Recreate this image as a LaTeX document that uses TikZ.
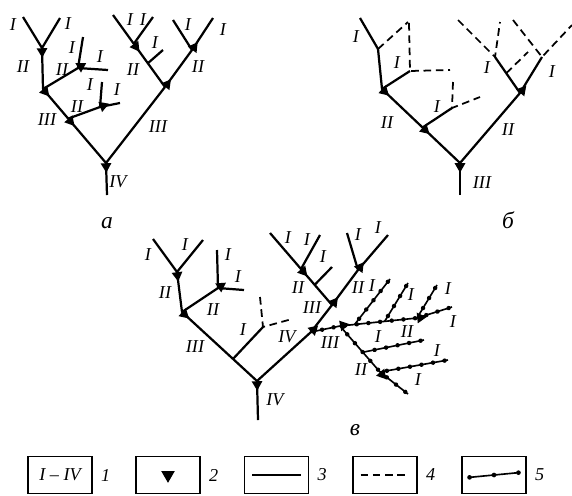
\documentclass[tikz,border=0pt]{standalone}
\usepackage{fontspec}
\setmainfont{Liberation Serif}
\usetikzlibrary{calc,shapes.geometric,decorations.markings}

% junction mark: triangle at #1, pointing downstream to #2
\newcommand\jtri[2]{\path (#1) -- (#2) node[tri, pos=0, sloped] (t#1) {};}

\begin{document}
\begin{tikzpicture}[
    x=0.03cm, y=-0.03cm,
    font=\fontsize{15.5}{15.5}\selectfont\itshape,
    riv/.style={line width=1.9pt, line join=round},
    dry/.style={line width=1.5pt, dash pattern=on 6.5pt off 4pt},
    bead/.style={line width=1.4pt, postaction={decorate},
      decoration={markings,
        mark=between positions 3pt and -1pt step 10pt with {\fill (0,0) circle (1.9pt);}}},
    tri/.style={isosceles triangle, isosceles triangle apex angle=60, fill,
      inner sep=0pt, minimum width=7pt, minimum height=8pt, anchor=west},
    lbl/.style={inner sep=0pt},
    tag/.style={inner sep=0pt, font=\fontsize{20}{20}\selectfont\itshape},
    key/.style={draw, line width=1.1pt, minimum width=1.92cm, minimum height=1.11cm},
  ]
  \useasboundingbox (0,0) rectangle (572,495);

  % tree a
  \coordinate (a0) at (107,195);
  \coordinate (a1) at (106,163);
  \coordinate (a2) at (43,89);
  \coordinate (a3) at ($(a2)!0.4!(a1)$);
  \coordinate (a4) at (165,87);
  \coordinate (a5) at (42,48);
  \coordinate (a5l) at (23,17);
  \coordinate (a5r) at (60,18);
  \coordinate (a6) at (78,68);
  \coordinate (a6u) at (83,37);
  \coordinate (a6r) at (108,70);
  \coordinate (a7) at (100,107);
  \coordinate (a7u) at (102,82);
  \coordinate (a7r) at (120,103);
  \coordinate (a8e) at (113,15);
  \coordinate (a8) at ($(a8e)!0.4!(a4)$);
  \coordinate (a8r) at (153,17);
  \coordinate (a8s) at ($(a8e)!0.67!(a4)$);
  \coordinate (a8t) at (163,50);
  \coordinate (a9) at (192,50);
  \coordinate (a9l) at (173,20);
  \coordinate (a9r) at (213,18);

  \draw[riv] (a0) -- (a1);
  \draw[riv] (a2) -- (a1) -- (a4);
  \draw[riv] (a5l) -- (a5) -- (a5r);
  \draw[riv] (a5) -- (a2) -- (a6);
  \draw[riv] (a6u) -- (a6) -- (a6r);
  \draw[riv] (a3) -- (a7);
  \draw[riv] (a7u) -- (a7) -- (a7r);
  \draw[riv] (a8e) -- (a4);
  \draw[riv] (a8) -- (a8r);
  \draw[riv] (a8s) -- (a8t);
  \draw[riv] (a4) -- (a9);
  \draw[riv] (a9l) -- (a9) -- (a9r);

  \jtri{a1}{a0} \jtri{a2}{a1} \jtri{a3}{a1} \jtri{a4}{a1}
  \jtri{a5}{a2} \jtri{a6}{a2} \jtri{a7}{a3} \jtri{a8}{a4} \jtri{a9}{a4}

  \node[lbl] (la1) at (13,25) {I};
  \node[lbl] (la2) at (68,24) {I};
  \node[lbl] (la3) at (23,67) {II};
  \node[lbl] (la4) at (62,70) {II};
  \node[lbl] (la5) at (72,48) {I};
  \node[lbl] (la6) at (100,57) {I};
  \node[lbl] (la7) at (47,120) {III};
  \node[lbl] (la8) at (77,107) {II};
  \node[lbl] (la9) at (90,85) {I};
  \node[lbl] (la10) at (117,90) {I};
  \node[lbl] (la11) at (130,20) {I};
  \node[lbl] (la12) at (143,20) {I};
  \node[lbl] (la13) at (155,43) {I};
  \node[lbl] (la14) at (133,70) {II};
  \node[lbl] (la15) at (188,25) {I};
  \node[lbl] (la16) at (223,30) {I};
  \node[lbl] (la17) at (198,67) {II};
  \node[lbl] (la18) at (158,127) {III};
  \node[lbl] (la19) at (118,182) {IV};
  \node[tag] (na) at (107,223) {а};

  % tree b
  \coordinate (b0) at (460,195);
  \coordinate (b1) at (460,163);
  \coordinate (b2) at (382,89);
  \coordinate (b3) at ($(b2)!0.52!(b1)$);
  \coordinate (b4) at (520,93);
  \coordinate (b5) at (378,49);
  \coordinate (b5e) at (360,18);
  \coordinate (b5d) at (408,22);
  \coordinate (b6) at (410,71);
  \coordinate (b6u) at (409,23);
  \coordinate (b6r) at (450,70);
  \coordinate (b7) at (452,108);
  \coordinate (b7u) at (453,82);
  \coordinate (b7r) at (480,97);
  \coordinate (b8) at (495,57);
  \coordinate (b8l) at (458,20);
  \coordinate (b8u) at (500,22);
  \coordinate (b8m) at ($(b8)!0.45!(b4)$);
  \coordinate (b8n) at (528,52);
  \coordinate (b9) at (542,57);
  \coordinate (b9l) at (513,20);
  \coordinate (b9r) at (572,25);

  \draw[riv] (b0) -- (b1);
  \draw[riv] (b2) -- (b1) -- (b4);
  \draw[riv] (b5e) -- (b5) -- (b2) -- (b6);
  \draw[riv] (b3) -- (b7);
  \draw[riv] (b8) -- (b4) -- (b9);
  \draw[dry] (b5) -- (b5d);
  \draw[dry] (b6u) -- (b6) -- (b6r);
  \draw[dry] (b7u) -- (b7) -- (b7r);
  \draw[dry] (b8l) -- (b8) -- (b8u);
  \draw[dry] (b8m) -- (b8n);
  \draw[dry] (b9l) -- (b9) -- (b9r);

  \jtri{b1}{b0} \jtri{b2}{b1} \jtri{b3}{b1} \jtri{b4}{b1}

  \node[lbl] (lb1) at (356,37) {I};
  \node[lbl] (lb2) at (397,63) {I};
  \node[lbl] (lb3) at (437,107) {I};
  \node[lbl] (lb4) at (387,123) {II};
  \node[lbl] (lb5) at (487,68) {I};
  \node[lbl] (lb6) at (552,72) {I};
  \node[lbl] (lb7) at (508,130) {II};
  \node[lbl] (lb8) at (482,183) {III};
  \node[tag] (nb) at (508,220) {б};

  % tree c
  \coordinate (c0) at (258,420);
  \coordinate (c1) at (257,381);
  \coordinate (c2) at (182,312);
  \coordinate (c3) at ($(c2)!0.68!(c1)$);
  \coordinate (c3e) at (263,327);
  \coordinate (c3u) at (260,297);
  \coordinate (c3r) at (292,319);
  \coordinate (c4) at (311,332);
  \coordinate (c5) at (177,272);
  \coordinate (c5l) at (153,239);
  \coordinate (c5r) at (203,240);
  \coordinate (c6) at (218,288);
  \coordinate (c6u) at (217,250);
  \coordinate (c6r) at (244,290);
  \coordinate (c7) at (332,305);
  \coordinate (c8e) at (270,233);
  \coordinate (c8) at ($(c8e)!0.5!(c7)$);
  \coordinate (c8r) at (320,235);
  \coordinate (c8s) at ($(c8e)!0.72!(c7)$);
  \coordinate (c8t) at (332,267);
  \coordinate (c9) at (358,270);
  \coordinate (c9l) at (347,233);
  \coordinate (c9r) at (388,235);
  \coordinate (c10) at (340,326);
  \coordinate (c11) at (417,318);
  \coordinate (c11e) at (452,307);
  \coordinate (c11u) at (437,285);
  \coordinate (c13) at ($(c10)!0.19!(c11)$);
  \coordinate (c13e) at (390,279);
  \coordinate (c14) at ($(c10)!0.58!(c11)$);
  \coordinate (c14e) at (408,283);
  \coordinate (c12) at (380,372);
  \coordinate (c12e) at (408,394);
  \coordinate (c12r) at (448,360);
  \coordinate (c15) at ($(c10)!0.57!(c12)$);
  \coordinate (c15e) at (424,340);

  \draw[riv] (c0) -- (c1);
  \draw[riv] (c2) -- (c1) -- (c4) -- (c7);
  \draw[riv] (c5l) -- (c5) -- (c5r);
  \draw[riv] (c5) -- (c2) -- (c6);
  \draw[riv] (c6u) -- (c6) -- (c6r);
  \draw[riv] (c3) -- (c3e);
  \draw[dry] (c3u) -- (c3e) -- (c3r);
  \draw[riv] (c8e) -- (c7) -- (c9);
  \draw[riv] (c8) -- (c8r);
  \draw[riv] (c8s) -- (c8t);
  \draw[riv] (c9l) -- (c9) -- (c9r);
  \draw[bead] (c11e) -- (c11) -- (c10) -- (c4);
  \draw[bead] (c13e) -- (c13);
  \draw[bead] (c14e) -- (c14);
  \draw[bead] (c11u) -- (c11);
  \draw[bead] (c12e) -- (c12) -- (c10);
  \draw[bead] (c12r) -- (c12);
  \draw[bead] (c15e) -- (c15);

  \jtri{c1}{c0} \jtri{c2}{c1} \jtri{c4}{c1} \jtri{c5}{c2} \jtri{c6}{c2}
  \jtri{c7}{c4} \jtri{c8}{c7} \jtri{c9}{c7} \jtri{c10}{c4}
  \jtri{c11}{c10} \jtri{c12}{c10}

  \node[lbl] (lc1) at (148,255) {I};
  \node[lbl] (lc2) at (185,245) {I};
  \node[lbl] (lc3) at (165,293) {II};
  \node[lbl] (lc4) at (228,255) {I};
  \node[lbl] (lc5) at (238,277) {I};
  \node[lbl] (lc6) at (213,310) {II};
  \node[lbl] (lc7) at (195,347) {III};
  \node[lbl] (lc8) at (243,330) {I};
  \node[lbl] (lc9) at (287,337) {IV};
  \node[lbl] (lc10) at (275,400) {IV};
  \node[lbl] (lc11) at (288,238) {I};
  \node[lbl] (lc12) at (307,240) {I};
  \node[lbl] (lc13) at (323,257) {I};
  \node[lbl] (lc14) at (298,288) {II};
  \node[lbl] (lc15) at (358,235) {I};
  \node[lbl] (lc16) at (378,228) {I};
  \node[lbl] (lc17) at (358,288) {II};
  \node[lbl] (lc18) at (312,308) {III};
  \node[lbl] (lc19) at (330,343) {III};
  \node[lbl] (lc20) at (372,286) {I};
  \node[lbl] (lc21) at (411,295) {I};
  \node[lbl] (lc22) at (448,289) {I};
  \node[lbl] (lc23) at (453,322) {I};
  \node[lbl] (lc24) at (407,332) {II};
  \node[lbl] (lc25) at (378,337) {I};
  \node[lbl] (lc26) at (437,351) {I};
  \node[lbl] (lc27) at (361,370) {II};
  \node[lbl] (lc28) at (418,380) {I};
  \node[tag] (nc) at (355,430) {в};

  % legend
  \node[key] (k1) at (60,475) {I -- IV};
  \node[key] (k2) at (168,475) {};
  \node[key] (k3) at (276.5,475) {};
  \node[key] (k4) at (385,475) {};
  \node[key] (k5) at (494,475) {};
  \node[lbl, anchor=west] (n1) at ([xshift=7pt]k1.east) {1};
  \node[lbl, anchor=west] (n2) at ([xshift=7pt]k2.east) {2};
  \node[lbl, anchor=west] (n3) at ([xshift=7pt]k3.east) {3};
  \node[lbl, anchor=west] (n4) at ([xshift=7pt]k4.east) {4};
  \node[lbl, anchor=west] (n5) at ([xshift=7pt]k5.east) {5};

  \node[tri, anchor=center, shape border rotate=270,
    minimum width=9pt, minimum height=10pt] (t2) at (k2) {};
  \coordinate (k3a) at ([xshift=7pt]k3.west);
  \coordinate (k3b) at ([xshift=-7pt]k3.east);
  \draw[line width=1.6pt] (k3a) -- (k3b);
  \coordinate (k4a) at ([xshift=7pt]k4.west);
  \coordinate (k4b) at ([xshift=-7pt]k4.east);
  \draw[dry] (k4a) -- (k4b);
  \coordinate (k5a) at ([xshift=7pt,yshift=-2pt]k5.west);
  \coordinate (k5b) at ([xshift=-7pt,yshift=2pt]k5.east);
  \coordinate (k5m) at ($(k5a)!0.5!(k5b)$);
  \draw[line width=1.4pt] (k5a) -- (k5b);
  \fill (k5a) circle (2pt) (k5m) circle (2pt) (k5b) circle (2pt);
\end{tikzpicture}
\end{document}
